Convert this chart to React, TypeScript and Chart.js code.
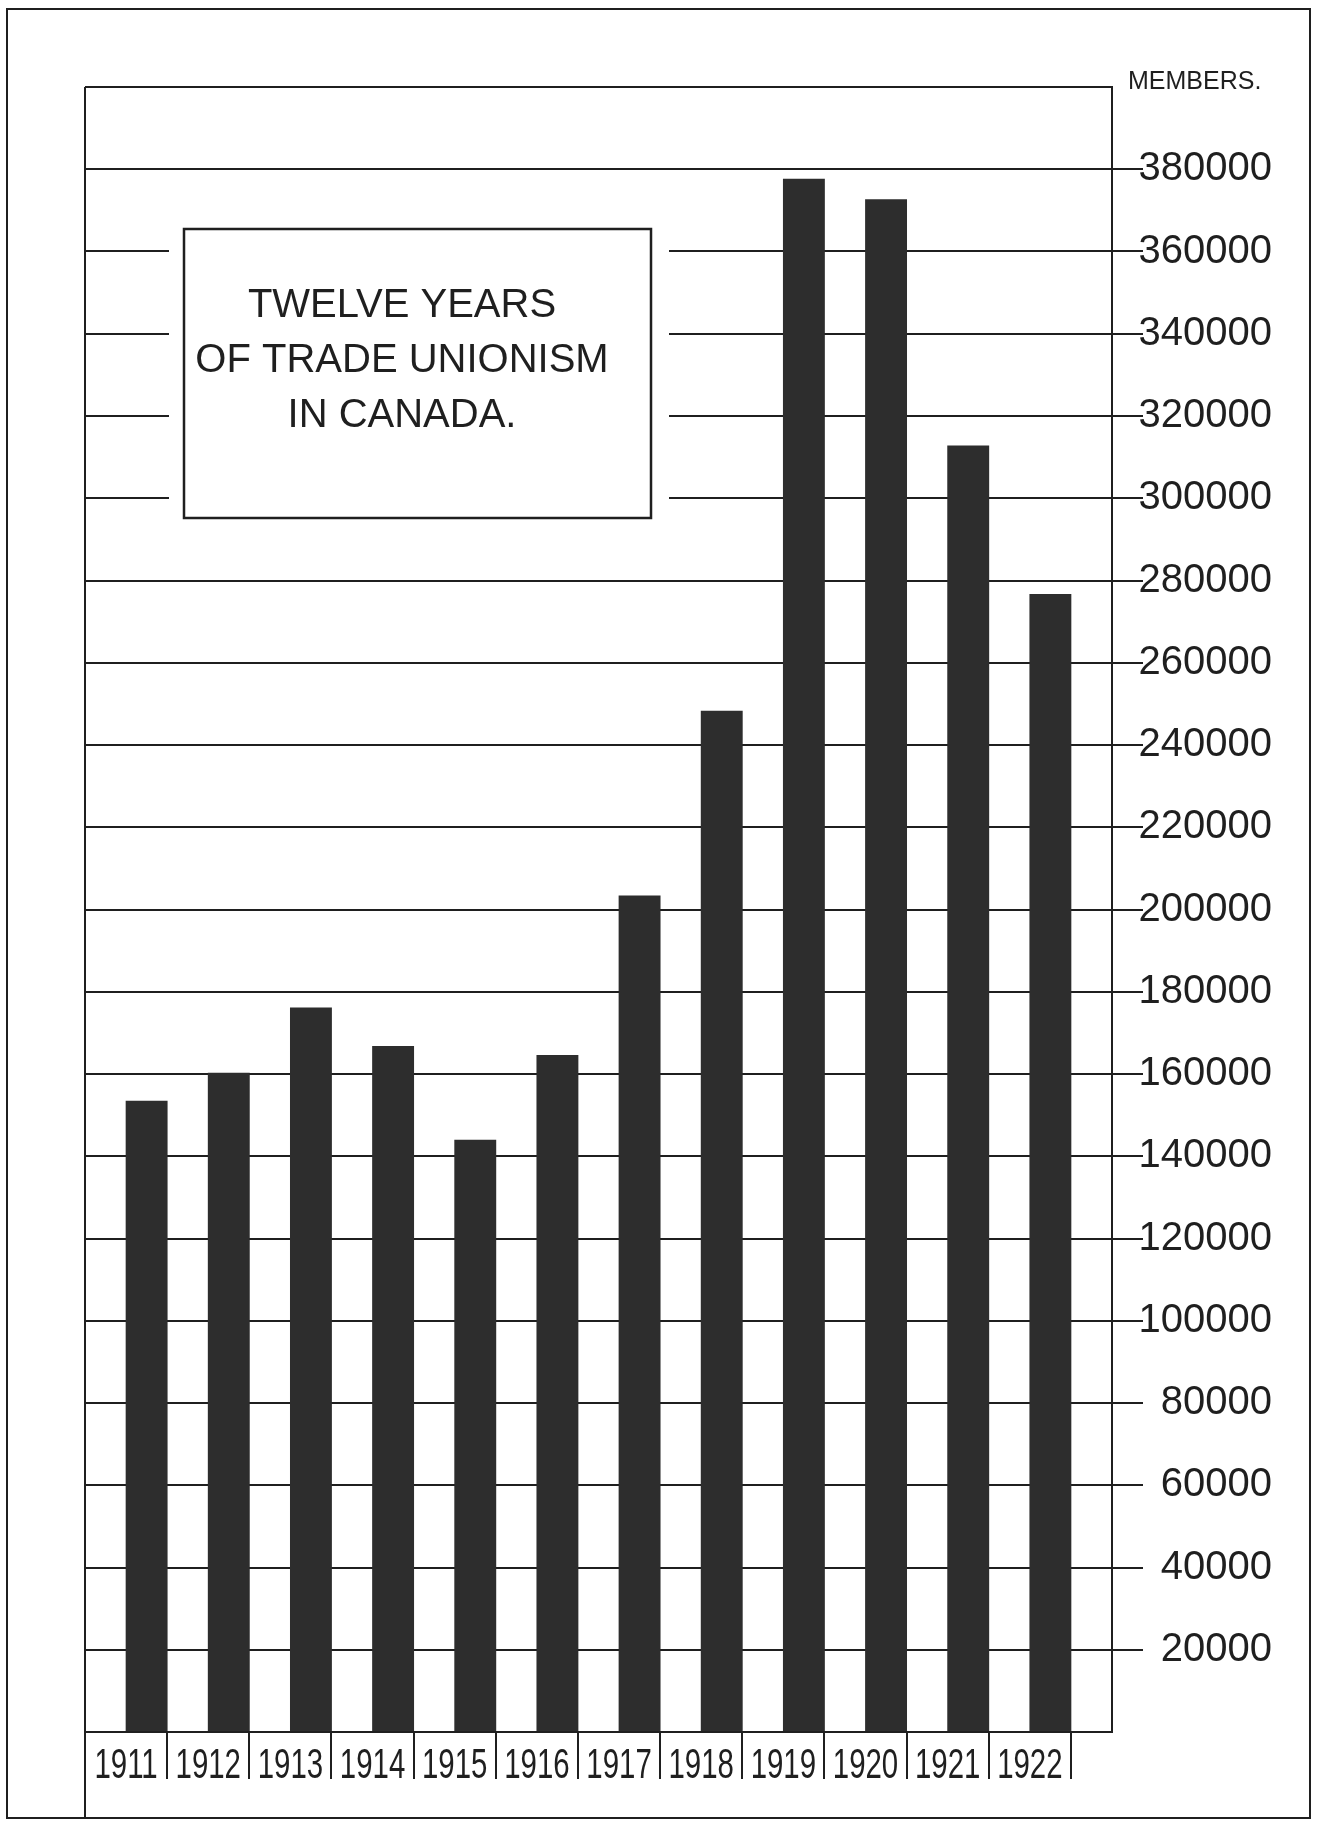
import React, { useEffect, useRef } from 'react';
import { Chart, registerables } from 'chart.js';

Chart.register(...registerables);

// ---- data ----
const YEARS = ['1911', '1912', '1913', '1914', '1915', '1916', '1917', '1918', '1919', '1920', '1921', '1922'];
const MEMBERS = [153500, 160300, 176200, 166800, 144000, 164600, 203400, 248300, 377700, 372700, 312800, 276700];
const Y_MIN = 0;
const Y_MAX = 400000;
const Y_STEP = 20000;
const TITLE_LINES = ['TWELVE YEARS', 'OF TRADE UNIONISM', 'IN CANADA.'];
const AXIS_TITLE = 'MEMBERS.';

// ---- styles ----
const W = 1321;
const H = 1822;
const INK = '#1f1f1f';
const BAR = '#2d2d2d';
const SANS = '"Liberation Sans", Arial, sans-serif';

export default function App() {
  const ref = useRef<HTMLCanvasElement>(null);

  useEffect(() => {
    document.body.style.margin = '0';
    const canvas = ref.current;
    if (!canvas) return;

    const decor = {
      id: 'decor',
      beforeDraw(chart: any) {
        const { ctx } = chart;
        ctx.save();
        ctx.fillStyle = '#ffffff';
        ctx.fillRect(0, 0, chart.width, chart.height);
        ctx.restore();
      },
      afterDraw(chart: any) {
        const { ctx, chartArea } = chart;
        const xs = chart.scales.x;
        ctx.save();
        ctx.strokeStyle = INK;
        ctx.lineWidth = 2;
        // outer page frame
        ctx.strokeRect(7, 9, 1303, 1809);
        // left frame of plot, running down past the year cells
        ctx.beginPath();
        ctx.moveTo(chartArea.left, chartArea.top);
        ctx.lineTo(chartArea.left, 1818);
        ctx.stroke();
        // year labels (condensed lettering), placed through the x scale
        ctx.fillStyle = INK;
        ctx.font = `42px ${SANS}`;
        ctx.textAlign = 'center';
        ctx.textBaseline = 'alphabetic';
        YEARS.forEach((yr, i) => {
          const px = xs.getPixelForValue(i - 0.25);
          ctx.save();
          ctx.translate(px, chartArea.bottom + 46);
          ctx.scale(0.7, 1);
          ctx.fillText(yr, 0, 0);
          ctx.restore();
        });
        // axis title
        ctx.font = `25px ${SANS}`;
        ctx.textAlign = 'left';
        ctx.fillText(AXIS_TITLE, 1128, 89);
        // title box
        ctx.fillStyle = '#ffffff';
        ctx.fillRect(169, 213, 500, 321);
        ctx.lineWidth = 2.5;
        ctx.strokeRect(184, 229, 467, 289);
        ctx.fillStyle = INK;
        ctx.font = `40px ${SANS}`;
        ctx.textAlign = 'center';
        TITLE_LINES.forEach((t, i) => ctx.fillText(t, 402, 317 + i * 55));
        ctx.restore();
      },
    };

    const chart = new Chart(canvas, {
      type: 'bar',
      data: {
        datasets: [
          {
            data: MEMBERS.map((v, i) => ({ x: i, y: v })),
            backgroundColor: BAR,
            borderWidth: 0,
            categoryPercentage: 1,
            barPercentage: 0.51,
          } as any,
        ],
      },
      options: {
        animation: false,
        responsive: false,
        devicePixelRatio: 1,
        layout: { padding: { left: 85, top: 87, right: 49, bottom: 0 } },
        plugins: { legend: { display: false }, tooltip: { enabled: false } },
        scales: {
          x: {
            type: 'linear',
            offset: false,
            min: -0.75,
            max: YEARS.length - 0.25,
            afterBuildTicks: (s: any) => {
              s.ticks = YEARS.map((_, i) => ({ value: i - 0.25 }));
            },
            afterFit: (s: any) => {
              s.height = 90;
            },
            grid: {
              offset: true,
              drawOnChartArea: false,
              drawTicks: true,
              tickLength: 47,
              color: INK,
              lineWidth: 2,
            },
            border: { display: true, color: INK, width: 2 },
            ticks: {
              display: false,
              autoSkip: false,
              maxRotation: 0,
              minRotation: 0,
            },
          },
          y: {
            position: 'right',
            min: Y_MIN,
            max: Y_MAX,
            afterFit: (s: any) => {
              s.width = 160;
            },
            grid: {
              color: INK,
              lineWidth: 2,
              drawTicks: true,
              tickLength: 31,
              tickColor: (c: any) =>
                c.tick && (c.tick.value === Y_MIN || c.tick.value === Y_MAX) ? 'rgba(0,0,0,0)' : INK,
            },
            border: { display: true, color: INK, width: 2 },
            ticks: {
              stepSize: Y_STEP,
              crossAlign: 'far',
              padding: 2,
              color: INK,
              font: { family: SANS, size: 40 },
              callback: (v: any) => (v === Y_MIN || v === Y_MAX ? '' : String(v)),
            },
          },
        },
      } as any,
      plugins: [decor],
    });

    return () => chart.destroy();
  }, []);

  return <canvas ref={ref} width={W} height={H} style={{ display: 'block' }} />;
}
